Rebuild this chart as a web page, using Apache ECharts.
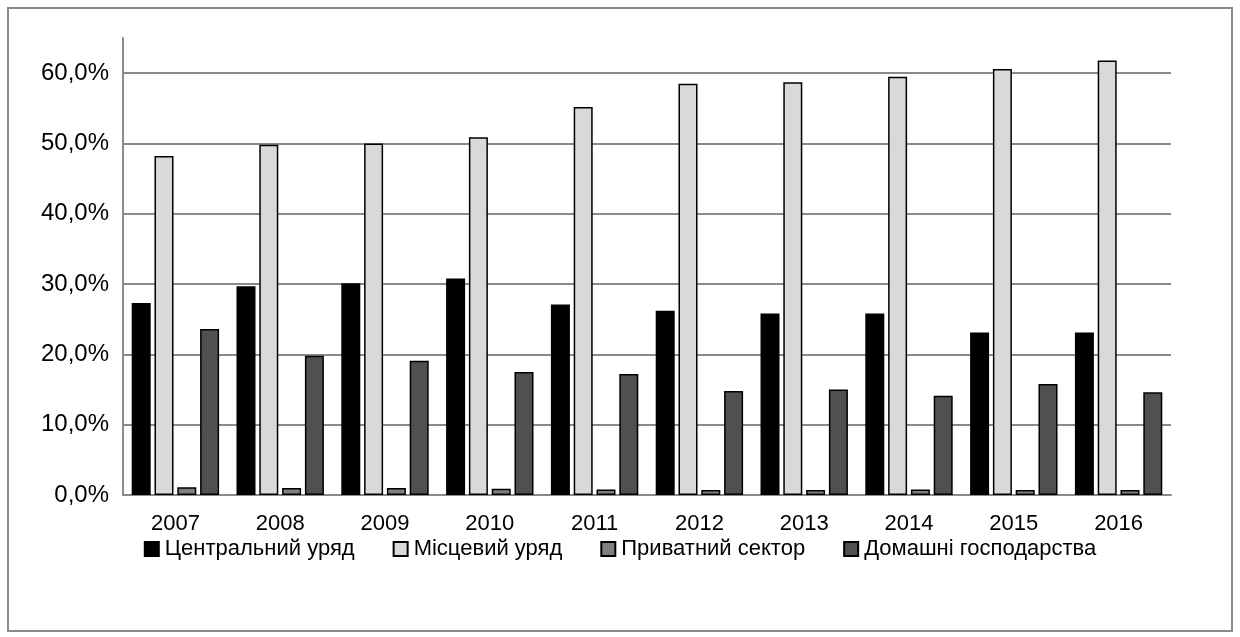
<!DOCTYPE html>
<html>
<head>
<meta charset="utf-8">
<script src="https://cdn.jsdelivr.net/npm/echarts@6/dist/echarts.min.js"></script>
<style>
html,body{margin:0;padding:0;background:#fff;}
#chart{width:1240px;height:637px;}
</style>
</head>
<body>
<div id="chart"></div>
<script>
const years = ['2007','2008','2009','2010','2011','2012','2013','2014','2015','2016'];
const seriesNames = ['Центральний уряд','Місцевий уряд','Приватний сектор','Домашні господарства'];
const central = [27.3, 29.7, 30.1, 30.8, 27.1, 26.2, 25.8, 25.8, 23.1, 23.1];
const local = [48.2, 49.8, 50.0, 50.9, 55.2, 58.5, 58.7, 59.5, 60.6, 61.8];
const privateSector = [1.1, 1.0, 1.0, 0.9, 0.8, 0.7, 0.7, 0.8, 0.7, 0.7];
const households = [23.6, 19.8, 19.1, 17.5, 17.2, 14.8, 15.0, 14.1, 15.8, 14.6];

const FONT = "'Liberation Sans', Arial, sans-serif";
const chart = echarts.init(document.getElementById('chart'), null, {renderer:'canvas'});
const fills = ['#000000', '#d9d9d9', '#808080', '#505050'];
const datas = [central, local, privateSector, households];
const grid = '#8a8a8a';

chart.setOption({
  animation: false,
  backgroundColor: '#fff',
  graphic: [{
    type: 'rect', shape: {x: 8, y: 8, width: 1224, height: 623},
    style: {fill: 'none', stroke: '#8a8a8a', lineWidth: 2}, silent: true
  }],
  grid: {left: 123, right: 69, top: 38, bottom: 142, containLabel: false},
  legend: {
    bottom: 72, left: 'center',
    itemWidth: 14, itemHeight: 14, itemGap: 38,
    icon: 'rect',
    textStyle: {fontFamily: FONT, fontSize: 22, color: '#000', padding: [0, 0, 0, 1]},
    data: seriesNames
  },
  xAxis: {
    type: 'category', data: years,
    axisLine: {show: true, lineStyle: {color: grid, width: 2}},
    axisTick: {show: false},
    axisLabel: {fontFamily: FONT, fontSize: 22, color: '#000', margin: 18}
  },
  yAxis: {
    type: 'value', min: 0, max: 65, interval: 10,
    axisLine: {show: true, lineStyle: {color: grid, width: 2}},
    axisTick: {show: false},
    axisLabel: {
      fontFamily: FONT, fontSize: 24, color: '#000', margin: 14,
      formatter: v => (v % 10 === 0) ? v.toFixed(1).replace('.', ',') + '%' : ''
    },
    splitLine: {show: true, lineStyle: {color: [grid, grid, grid, grid, grid, grid, grid, 'rgba(0,0,0,0)'], width: 2}}
  },
  series: datas.map((d, i) => ({
    name: seriesNames[i], type: 'bar', data: d,
    barWidth: 19, barGap: '20%',
    itemStyle: {color: fills[i], borderColor: '#000', borderWidth: 1.5}
  }))
});
</script>
</body>
</html>
